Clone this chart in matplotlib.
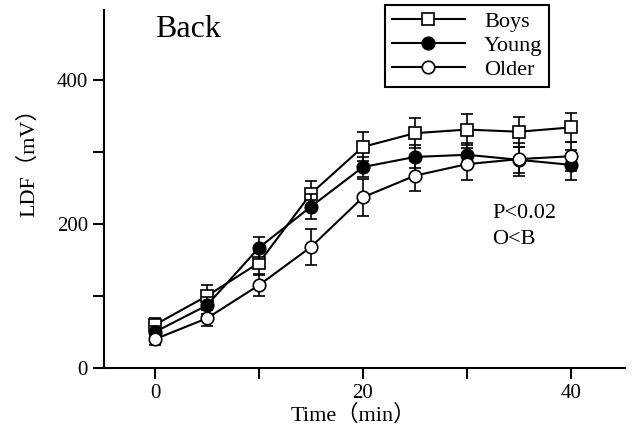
import matplotlib.pyplot as plt
from matplotlib.lines import Line2D

plt.rcParams['font.family'] = ['Liberation Serif', 'Noto Sans CJK JP']

time = [0, 5, 10, 15, 20, 25, 30, 35, 40]
boys = [60, 100, 146, 242, 307, 326, 331, 328, 334]
boys_err = [10, 15, 17, 18, 20, 21, 22, 21, 20]
young = [50, 87, 167, 224, 279, 293, 296, 289, 282]
young_err = [8, 12, 15, 17, 14, 16, 16, 18, 21]
older = [40, 69, 115, 168, 237, 267, 283, 290, 294]
older_err = [8, 11, 15, 25, 26, 21, 22, 23, 20]

fig = plt.figure(figsize=(6.34, 4.28), dpi=100)
ax = fig.add_axes([104 / 634, 1 - 368 / 428, (625 - 104) / 634, (368 - 10) / 428])

style = dict(color='black', lw=1.5, ms=9, capsize=4, elinewidth=1.2,
             capthick=1.2, markeredgecolor='black', markeredgewidth=1.2)
ax.errorbar(time, boys, yerr=boys_err, marker='s', mfc='white', zorder=3, **style)
ax.errorbar(time, young, yerr=young_err, marker='o', mfc='black', zorder=4, **style)
ax.errorbar(time, older, yerr=older_err, marker='o', mfc='white', zorder=5, **style)

ax.set_xlim(-4.9, 45.2)
ax.set_ylim(0, 497)
ax.spines['top'].set_visible(False)
ax.spines['right'].set_visible(False)
ax.spines['left'].set_linewidth(1.5)
ax.spines['bottom'].set_linewidth(1.5)
ax.set_xticks([0, 10, 20, 30, 40])
ax.set_xticklabels(['0', '', '20', '', '40'])
ax.set_yticks([0, 100, 200, 300, 400])
ax.set_yticklabels(['0', '', '200', '', '400'])
ax.tick_params(direction='out', length=8, width=1.5, labelsize=15)

ax.set_xlabel('Time（min）', fontsize=16)
ax.xaxis.set_label_coords(0.478, -0.102)
ax.set_ylabel('LDF（mV）', fontsize=16)
ax.yaxis.set_label_coords(-0.125, 0.59)

ax.text(0, 470, 'Back', fontsize=23, ha='left', va='center')
ax.text(32.4, 215, 'P<0.02', fontsize=16, ha='left', va='center')
ax.text(32.4, 178, 'O<B', fontsize=16, ha='left', va='center')

handles = [
    Line2D([], [], color='black', lw=1.5, marker='s', ms=9, mfc='white', mec='black', mew=1.2),
    Line2D([], [], color='black', lw=1.5, marker='o', ms=9, mfc='black', mec='black', mew=1.2),
    Line2D([], [], color='black', lw=1.5, marker='o', ms=9, mfc='white', mec='black', mew=1.2),
]
leg = fig.legend(handles, ['Boys', 'Young', 'Older'], loc='upper left',
                 bbox_to_anchor=(385 / 634, 1 - 5 / 428),
                 fancybox=False, edgecolor='black', fontsize=16, handlelength=3.3,
                 borderpad=0.3, labelspacing=0.15, handletextpad=0.85, framealpha=1,
                 borderaxespad=0)
leg.get_frame().set_linewidth(1.5)

fig.savefig('out.png', dpi=100)
